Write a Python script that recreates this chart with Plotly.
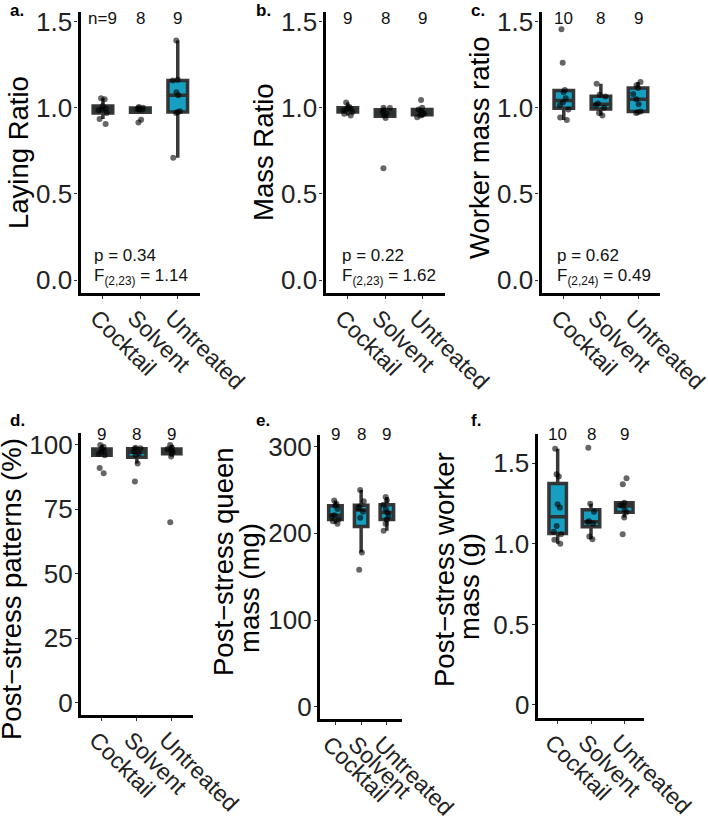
import numpy as np
import plotly.graph_objects as go

W, H = 708, 823

groups = ["Cocktail", "Solvent", "Untreated"]

# a. laying ratio
laying_cocktail = [0.905, 0.935, 0.97, 0.985, 0.99, 0.995, 1.01, 1.05, 1.055]
laying_solvent = [0.915, 0.93, 0.988, 0.99, 0.992, 0.998, 1.0, 1.004]
laying_untreated = [0.71, 0.97, 0.975, 0.98, 1.072, 1.09, 1.158, 1.162, 1.39]

# b. mass ratio
mass_cocktail = [0.955, 0.965, 0.975, 0.985, 0.99, 0.995, 1.0, 1.005, 1.03]
mass_solvent = [0.649, 0.94, 0.955, 0.965, 0.975, 0.985, 0.998, 1.0]
mass_untreated = [0.945, 0.955, 0.96, 0.965, 0.97, 0.98, 0.99, 1.0, 1.045]

# c. worker mass ratio
worker_cocktail = [0.929, 0.943, 0.99, 1.016, 1.03, 1.055, 1.09, 1.103, 1.262, 1.456]
worker_solvent = [0.955, 0.97, 1.0, 1.015, 1.025, 1.065, 1.075, 1.14]
worker_untreated = [0.97, 0.974, 0.978, 1.02, 1.05, 1.08, 1.115, 1.13, 1.15]

# d. post-stress patterns (%)
patterns_cocktail = [89, 91, 96, 96.5, 97.2, 97.8, 98.4, 99.3, 100]
patterns_solvent = [85.8, 92.8, 96, 96.8, 97.4, 98.5, 98.7, 98.9]
patterns_untreated = [70, 95.5, 96.6, 97.2, 97.7, 98, 98.4, 99, 100]

# e. post-stress queen mass (mg)
queen_cocktail = [211, 214, 216, 220, 221, 228, 232, 234, 238]
queen_solvent = [158, 178, 218, 225, 229, 231, 237, 250]
queen_untreated = [203, 211, 216, 220, 224, 228, 233, 238, 242]

# f. post-stress worker mass (g)
wmass_cocktail = [1.0, 1.025, 1.06, 1.076, 1.111, 1.225, 1.246, 1.418, 1.432, 1.591]
wmass_solvent = [1.029, 1.045, 1.126, 1.136, 1.14, 1.2, 1.249, 1.597]
wmass_untreated = [1.06, 1.163, 1.197, 1.21, 1.235, 1.24, 1.255, 1.37, 1.407]

n_labels_top = [["n=9", "8", "9"], ["9", "8", "9"], ["10", "8", "9"]]
n_labels_bottom = [["9", "8", "9"], ["9", "8", "9"], ["10", "8", "9"]]

stats_p = ["p = 0.34", "p = 0.22", "p = 0.62"]
stats_f = ["F<sub>(2,23)</sub> = 1.14", "F<sub>(2,23)</sub> = 1.62", "F<sub>(2,24)</sub> = 0.49"]

ratio_ticks = [0, 0.5, 1.0, 1.5]
ratio_ticktext = ["0.0", "0.5", "1.0", "1.5"]
pattern_ticks = [0, 25, 50, 75, 100]
queen_ticks = [0, 100, 200, 300]
wmass_ticks = [0, 0.5, 1.0, 1.5]
wmass_ticktext = ["0", "0.5", "1.0", "1.5"]

TEAL = "#169fc0"
DARK = "rgba(45,45,45,0.95)"
FONT = "Liberation Sans, Arial, sans-serif"


def box_stats(vals):
    v = np.sort(np.asarray(vals, dtype=float))
    q1, med, q3 = np.percentile(v, [25, 50, 75])
    iqr = q3 - q1
    lo = v[v >= q1 - 1.5 * iqr].min()
    hi = v[v <= q3 + 1.5 * iqr].max()
    return q1, med, q3, lo, hi


def px_x(p):
    return p / W


def px_y(p):
    return 1 - p / H


# panel layout in pixels: (x0, x1, ytop, ybottom), y range, ticks
panels = [
    dict(data=[laying_cocktail, laying_solvent, laying_untreated],
         box=(80.5, 200.2, 12, 293), yrange=[-0.0755, 1.556],
         tickvals=ratio_ticks, ticktext=ratio_ticktext),
    dict(data=[mass_cocktail, mass_solvent, mass_untreated],
         box=(325.5, 444.5, 12, 293), yrange=[-0.0755, 1.556],
         tickvals=ratio_ticks, ticktext=ratio_ticktext),
    dict(data=[worker_cocktail, worker_solvent, worker_untreated],
         box=(541.5, 660.3, 12, 293), yrange=[-0.0755, 1.556],
         tickvals=ratio_ticks, ticktext=ratio_ticktext),
    dict(data=[patterns_cocktail, patterns_solvent, patterns_untreated],
         box=(81, 192.7, 433.3, 715), yrange=[-4.8, 104.5],
         tickvals=pattern_ticks, ticktext=[str(t) for t in pattern_ticks]),
    dict(data=[queen_cocktail, queen_solvent, queen_untreated],
         box=(320, 402.3, 435, 719.3), yrange=[-14.5, 313.5],
         tickvals=queen_ticks, ticktext=[str(t) for t in queen_ticks]),
    dict(data=[wmass_cocktail, wmass_solvent, wmass_untreated],
         box=(537.7, 644.3, 434, 717.7), yrange=[-0.079, 1.682],
         tickvals=wmass_ticks, ticktext=wmass_ticktext),
]

fig = go.Figure()
annotations = []

for i, pan in enumerate(panels):
    suffix = "" if i == 0 else str(i + 1)
    xa, ya = "x" + suffix, "y" + suffix
    st = [box_stats(v) for v in pan["data"]]

    fig.add_trace(go.Box(
        x=groups,
        q1=[s[0] for s in st], median=[s[1] for s in st], q3=[s[2] for s in st],
        lowerfence=[s[3] for s in st], upperfence=[s[4] for s in st],
        fillcolor=TEAL, line=dict(color=DARK, width=3.5),
        whiskerwidth=0, boxpoints=False, hoverinfo="skip",
        xaxis=xa, yaxis=ya, showlegend=False,
    ))

    xs, ys = [], []
    for g, vals in zip(groups, pan["data"]):
        xs += [g] * len(vals)
        ys += list(vals)
    fig.add_trace(go.Box(
        x=xs, y=ys, boxpoints="all", jitter=0.6, pointpos=0,
        fillcolor="rgba(0,0,0,0)", line=dict(color="rgba(0,0,0,0)", width=0),
        marker=dict(color="rgba(0,0,0,0.6)", size=6, line=dict(width=0)),
        whiskerwidth=0, hoverinfo="y",
        xaxis=xa, yaxis=ya, showlegend=False,
    ))

    x0, x1, yt, yb = pan["box"]
    axis_common = dict(
        showline=True, linewidth=3.3, linecolor="black", mirror=False,
        ticks="outside", ticklen=3, tickwidth=1.3, tickcolor="#333",
        showgrid=False, zeroline=False, fixedrange=True, automargin=False,
    )
    fig.update_layout({
        "xaxis" + suffix: dict(
            domain=[px_x(x0), px_x(x1)], range=[-0.6, 2.6],
            type="category", categoryorder="array", categoryarray=groups,
            tickmode="array", tickvals=groups, ticktext=groups,
            tickangle=45, ticklabelstandoff=-4, ticklabelshift=-6, anchor=ya,
            tickfont=dict(family=FONT, size=23, color="#222"), **axis_common),
        "yaxis" + suffix: dict(
            domain=[px_y(yb), px_y(yt)], range=pan["yrange"],
            tickmode="array", tickvals=pan["tickvals"], ticktext=pan["ticktext"],
            ticklabelstandoff=-3, anchor=xa,
            tickfont=dict(family=FONT, size=26, color="#222"), **axis_common),
    })

    labels = n_labels_top[i] if i < 3 else n_labels_bottom[i - 3]
    ny = 18 if i < 3 else 434
    for g, lab in zip(groups, labels):
        annotations.append(dict(
            x=g, xref=xa, y=px_y(ny), yref="paper", text=lab, showarrow=False,
            xanchor="center", yanchor="middle",
            font=dict(family=FONT, size=17, color="#111")))

# p / F statistics in top row
stat_left = [92, 340, 555]
for x, p, f in zip(stat_left, stats_p, stats_f):
    annotations.append(dict(
        x=px_x(x), y=px_y(256), xref="paper", yref="paper", text=p,
        showarrow=False, xanchor="left", yanchor="middle",
        font=dict(family=FONT, size=17, color="#111")))
    annotations.append(dict(
        x=px_x(x), y=px_y(264), xref="paper", yref="paper", text=f,
        showarrow=False, xanchor="left", yanchor="top",
        font=dict(family=FONT, size=17, color="#111")))

# panel letters
letters = [("a.", 8, 10), ("b.", 254, 10), ("c.", 469, 10),
           ("d.", 8, 420), ("e.", 254, 420), ("f.", 469, 420)]
for t, x, y in letters:
    annotations.append(dict(
        x=px_x(x), y=px_y(y), xref="paper", yref="paper", text="<b>%s</b>" % t,
        showarrow=False, xanchor="left", yanchor="middle",
        font=dict(family=FONT, size=17, color="black")))

# y axis titles
titles = [
    ("Laying Ratio", 19, 153),
    ("Mass Ratio", 264, 152),
    ("Worker mass ratio", 479, 148),
    ("Post−stress patterns (%)", 11, 589),
    ("Post−stress queen", 223, 562),
    ("mass (mg)", 249, 588),
    ("Post−stress worker", 444, 570),
    ("mass (g)", 469, 587),
]
for t, x, y in titles:
    annotations.append(dict(
        x=px_x(x), y=px_y(y), xref="paper", yref="paper", text=t,
        showarrow=False, xanchor="center", yanchor="middle", textangle=-90,
        font=dict(family=FONT, size=27.5, color="black")))

fig.update_layout(
    width=W, height=H, autosize=False,
    margin=dict(l=0, r=0, t=0, b=0),
    paper_bgcolor="white", plot_bgcolor="white",
    boxmode="overlay", boxgap=0.25,
    annotations=annotations,
    showlegend=False,
)

# drop the browser's default 8px body margin so the figure sits at 0,0
fig.write_html("out.html", config={"displayModeBar": False},
               post_script="document.body.style.margin = '0';")
